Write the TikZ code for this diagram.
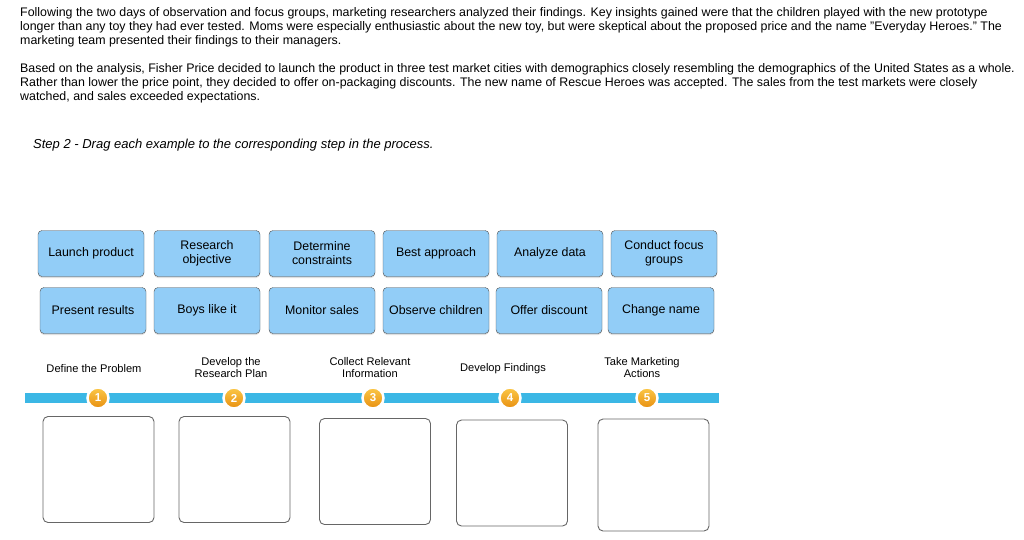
\documentclass[tikz,border=0pt]{standalone}
\usepackage{fontspec}
\setmainfont{Liberation Sans}
\usepackage{tikz}
\usetikzlibrary{positioning,shadows}
\definecolor{cardblue}{RGB}{146,205,247}
\definecolor{barblue}{RGB}{59,183,229}
\definecolor{dottop}{RGB}{251,200,72}
\definecolor{dotbot}{RGB}{232,143,16}

\begin{document}
\begin{tikzpicture}[x=1pt, y=-1pt,
	txt/.style={inner sep=0, anchor=north west, align=left,
		font=\fontsize{12.4}{14}\selectfont},
	card/.style={draw=black!70, fill=cardblue, rounded corners=4pt,
		minimum width=106pt, minimum height=46pt, align=center,
		font=\fontsize{12.4}{14}\selectfont,
		drop shadow={shadow xshift=0pt, shadow yshift=-1.5pt, opacity=0.25}},
	stage/.style={align=center, inner sep=0, font=\fontsize{11.1}{12}\selectfont},
	dot/.style={circle, draw=white, line width=2.5pt, minimum size=21pt, inner sep=0,
		top color=dottop, bottom color=dotbot, text=white,
		font=\fontsize{11.5}{11}\selectfont\bfseries},
	drop/.style={draw=black!60, line width=0.9pt, rounded corners=5pt,
		minimum width=111pt, minimum height=106pt},
	bar/.style={barblue, line width=10pt}
]
	\useasboundingbox (0,0) rectangle (1024,539);
	% case text
	\node[txt] (para1) at (20,7.6)
		{Following the two days of observation and focus groups, marketing researchers analyzed their findings. Key insights gained were that the children played with the new prototype\\
		longer than any toy they had ever tested. Moms were especially enthusiastic about the new toy, but were skeptical about the proposed price and the name "Everyday Heroes." The\\
		marketing team presented their findings to their managers.};
	\node[txt] (para2) at (20,63.6)
		{Based on the analysis, Fisher Price decided to launch the product in three test market cities with demographics closely resembling the demographics of the United States as a whole.\\
		Rather than lower the price point, they decided to offer on-packaging discounts. The new name of Rescue Heroes was accepted. The sales from the test markets were closely\\
		watched, and sales exceeded expectations.};
	\node[txt, font=\fontsize{13}{14}\selectfont\itshape] (task) at (33,139.2)
		{Step 2 - Drag each example to the corresponding step in the process.};
	% example cards
	\node[card] (launch) at (91,253.5) {Launch product};
	\node[card] (resobj) at (207,253.5) {Research\\ objective};
	\node[card] (constr) at (322,253.5) {Determine\\ constraints};
	\node[card] (best) at (436,253.5) {Best approach};
	\node[card] (analyze) at (550,253.5) {Analyze data};
	\node[card] (focus) at (664,253.5) {Conduct focus\\ groups};
	\node[card] (present) at (93,310.5) {Present results};
	\node[card] (boys) at (207,310.5) {Boys like it};
	\node[card] (monitor) at (322,310.5) {Monitor sales};
	\node[card] (observe) at (436,310.5) {Observe children};
	\node[card] (offer) at (549,310.5) {Offer discount};
	\node[card] (rename) at (661,310.5) {Change name};
	% process steps
	\node[stage] (define) at (94,368.5) {Define the Problem};
	\node[stage] (plan) at (231,367.5) {Develop the\\ Research Plan};
	\node[stage] (collect) at (370,367.5) {Collect Relevant\\ Information};
	\node[stage] (findings) at (503,368.5) {Develop Findings};
	\node[stage] (action) at (642,367.5) {Take Marketing\\ Actions};
	\coordinate (barL) at (25,398);
	\coordinate (barR) at (719,398);
	\draw[bar] (barL) -- (barR);
	\node[dot] (n1) at (98,398) {1};
	\node[dot] (n2) at (234,398) {2};
	\node[dot] (n3) at (373,398) {3};
	\node[dot] (n4) at (510,398) {4};
	\node[dot] (n5) at (647,398) {5};
	% drop zones
	\node[drop] (zone1) at (98.5,469.5) {};
	\node[drop] (zone2) at (234.5,469.5) {};
	\node[drop] (zone3) at (375,471.5) {};
	\node[drop] (zone4) at (512,473) {};
	\node[drop, minimum height=112pt] (zone5) at (653.5,475) {};
\end{tikzpicture}
\end{document}
